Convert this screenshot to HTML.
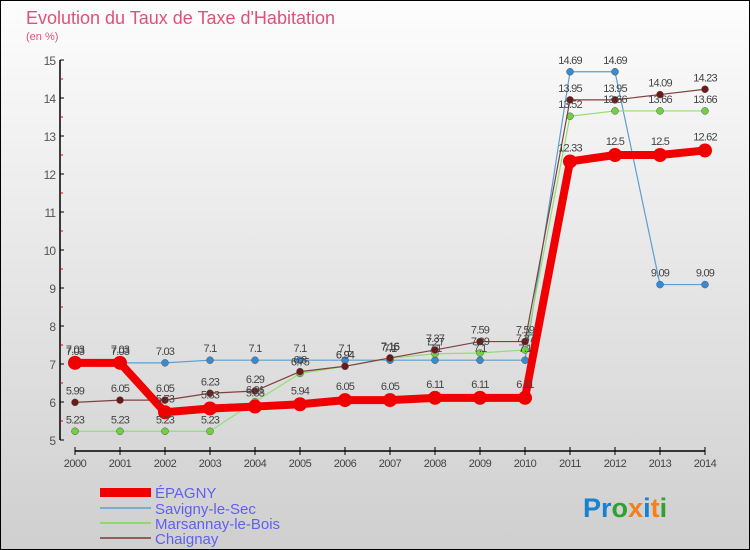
<!DOCTYPE html>
<html><head><meta charset="utf-8"><style>
body{margin:0;width:750px;height:550px;overflow:hidden;font-family:"Liberation Sans",sans-serif}
svg{display:block}
</style></head><body>
<svg id="c" width="750" height="550" xmlns="http://www.w3.org/2000/svg">
<defs><linearGradient id="bg" x1="0" y1="0" x2="0" y2="1"><stop offset="0" stop-color="#fdfdfd"/><stop offset="1" stop-color="#cfcfcf"/></linearGradient></defs>
<rect x="0.5" y="0.5" width="749" height="549" fill="url(#bg)" stroke="#000"/>
<text x="26" y="24" font-size="18" fill="#e0507a">Evolution du Taux de Taxe d'Habitation</text>
<text x="26" y="40" font-size="11" fill="#e0507a">(en %)</text>
<g id="axes"></g><g id="series"></g><g id="labels"></g>
<g font-size="15" fill="#6060f0">
<rect x="100" y="488" width="51" height="9" fill="#f00000"/>
<text x="155" y="498">ÉPAGNY</text>
<rect x="100" y="507" width="51" height="2" fill="#7aaed0"/>
<text x="155" y="514">Savigny-le-Sec</text>
<rect x="100" y="522" width="51" height="2" fill="#90d870"/>
<text x="155" y="529">Marsannay-le-Bois</text>
<rect x="100" y="537" width="51" height="2" fill="#906060"/>
<text x="155" y="544">Chaignay</text>
</g>
<text x="583" y="517" font-size="27" font-weight="bold"><tspan fill="#1a80d0">Pr</tspan><tspan fill="#30a030">o</tspan><tspan fill="#f08020">x</tspan><tspan fill="#1a80d0">i</tspan><tspan fill="#f08020">t</tspan><tspan fill="#30a030">i</tspan></text>
</svg>
<script>
const years=["2000","2001","2002","2003","2004","2005","2006","2007","2008","2009","2010","2011","2012","2013","2014"];
const yTicks=[5,6,7,8,9,10,11,12,13,14,15];
const epagny=[7.03,7.03,5.73,5.83,5.88,5.94,6.05,6.05,6.11,6.11,6.11,12.33,12.5,12.5,12.62];
const savigny=[7.03,7.03,7.03,7.1,7.1,7.1,7.1,7.1,7.1,7.1,7.1,14.69,14.69,9.09,9.09];
const marsannay=[5.23,5.23,5.23,5.23,6.01,6.75,6.94,7.15,7.27,7.29,7.37,13.52,13.66,13.66,13.66];
const chaignay=[5.99,6.05,6.05,6.23,6.29,6.8,6.94,7.16,7.37,7.59,7.59,13.95,13.95,14.09,14.23];
const NS="http://www.w3.org/2000/svg";
const x=i=>75+i*45;
const y=v=>440-(v-5)*38;
function mk(t,a,p){const e=document.createElementNS(NS,t);for(const k in a)e.setAttribute(k,a[k]);p.appendChild(e);return e;}
const ax=document.getElementById('axes');
let e=mk('line',{x1:60,y1:60,x2:60,y2:440,stroke:'#000','stroke-width':1.5},ax);


e=mk('line',{x1:75,y1:451,x2:705,y2:451,stroke:'#000','stroke-width':1.5},ax);


yTicks.forEach(v=>{
  mk('line',{x1:60,y1:y(v),x2:64,y2:y(v),stroke:'#000'},ax);
  if(v<15)mk('line',{x1:60,y1:y(v+0.5),x2:63,y2:y(v+0.5),stroke:'#d00'},ax);
  const t=mk('text',{x:55,y:y(v)+5,'text-anchor':'end','font-size':12,fill:'#555','letter-spacing':'-1'},ax);
  t.textContent=v;
  
  
});
years.forEach((yr,i)=>{
  mk('line',{x1:x(i),y1:447,x2:x(i),y2:455,stroke:'#000'},ax);
  const t=mk('text',{x:x(i),y:467,'text-anchor':'middle','font-size':11,fill:'#444','letter-spacing':'-0.5'},ax);
  t.textContent=yr;
  
  
});
const sg=document.getElementById('series'),lg=document.getElementById('labels');
function draw(data,name,color,dot,w,r){
  const g=mk('g',{},sg);
  
  
  const l=mk('polyline',{points:data.map((v,i)=>x(i)+','+y(v)).join(' '),fill:'none',stroke:color,'stroke-width':w,'stroke-linejoin':'round'},g);
  
  
  data.forEach((v,i)=>{
    const c=mk('circle',{cx:x(i),cy:y(v),r:r,fill:dot,stroke:r>5?'none':'#555','stroke-width':0.5},g);
    
    
    const t=mk('text',{x:x(i),y:y(v)-(r>5?10:8),'text-anchor':'middle','font-size':11,fill:'#444','letter-spacing':'-0.8'},lg);
    t.textContent=v;
    
    
  });
}
draw(savigny,'savigny','#5a9fd0','#3a8ad0',1.2,3.5);
draw(marsannay,'marsannay','#90e070','#70d040',1.2,3.5);
draw(chaignay,'chaignay','#804040','#701818',1.2,3.5);
draw(epagny,'epagny','#f00000','#f00000',8,7);
</script>
</body></html>
